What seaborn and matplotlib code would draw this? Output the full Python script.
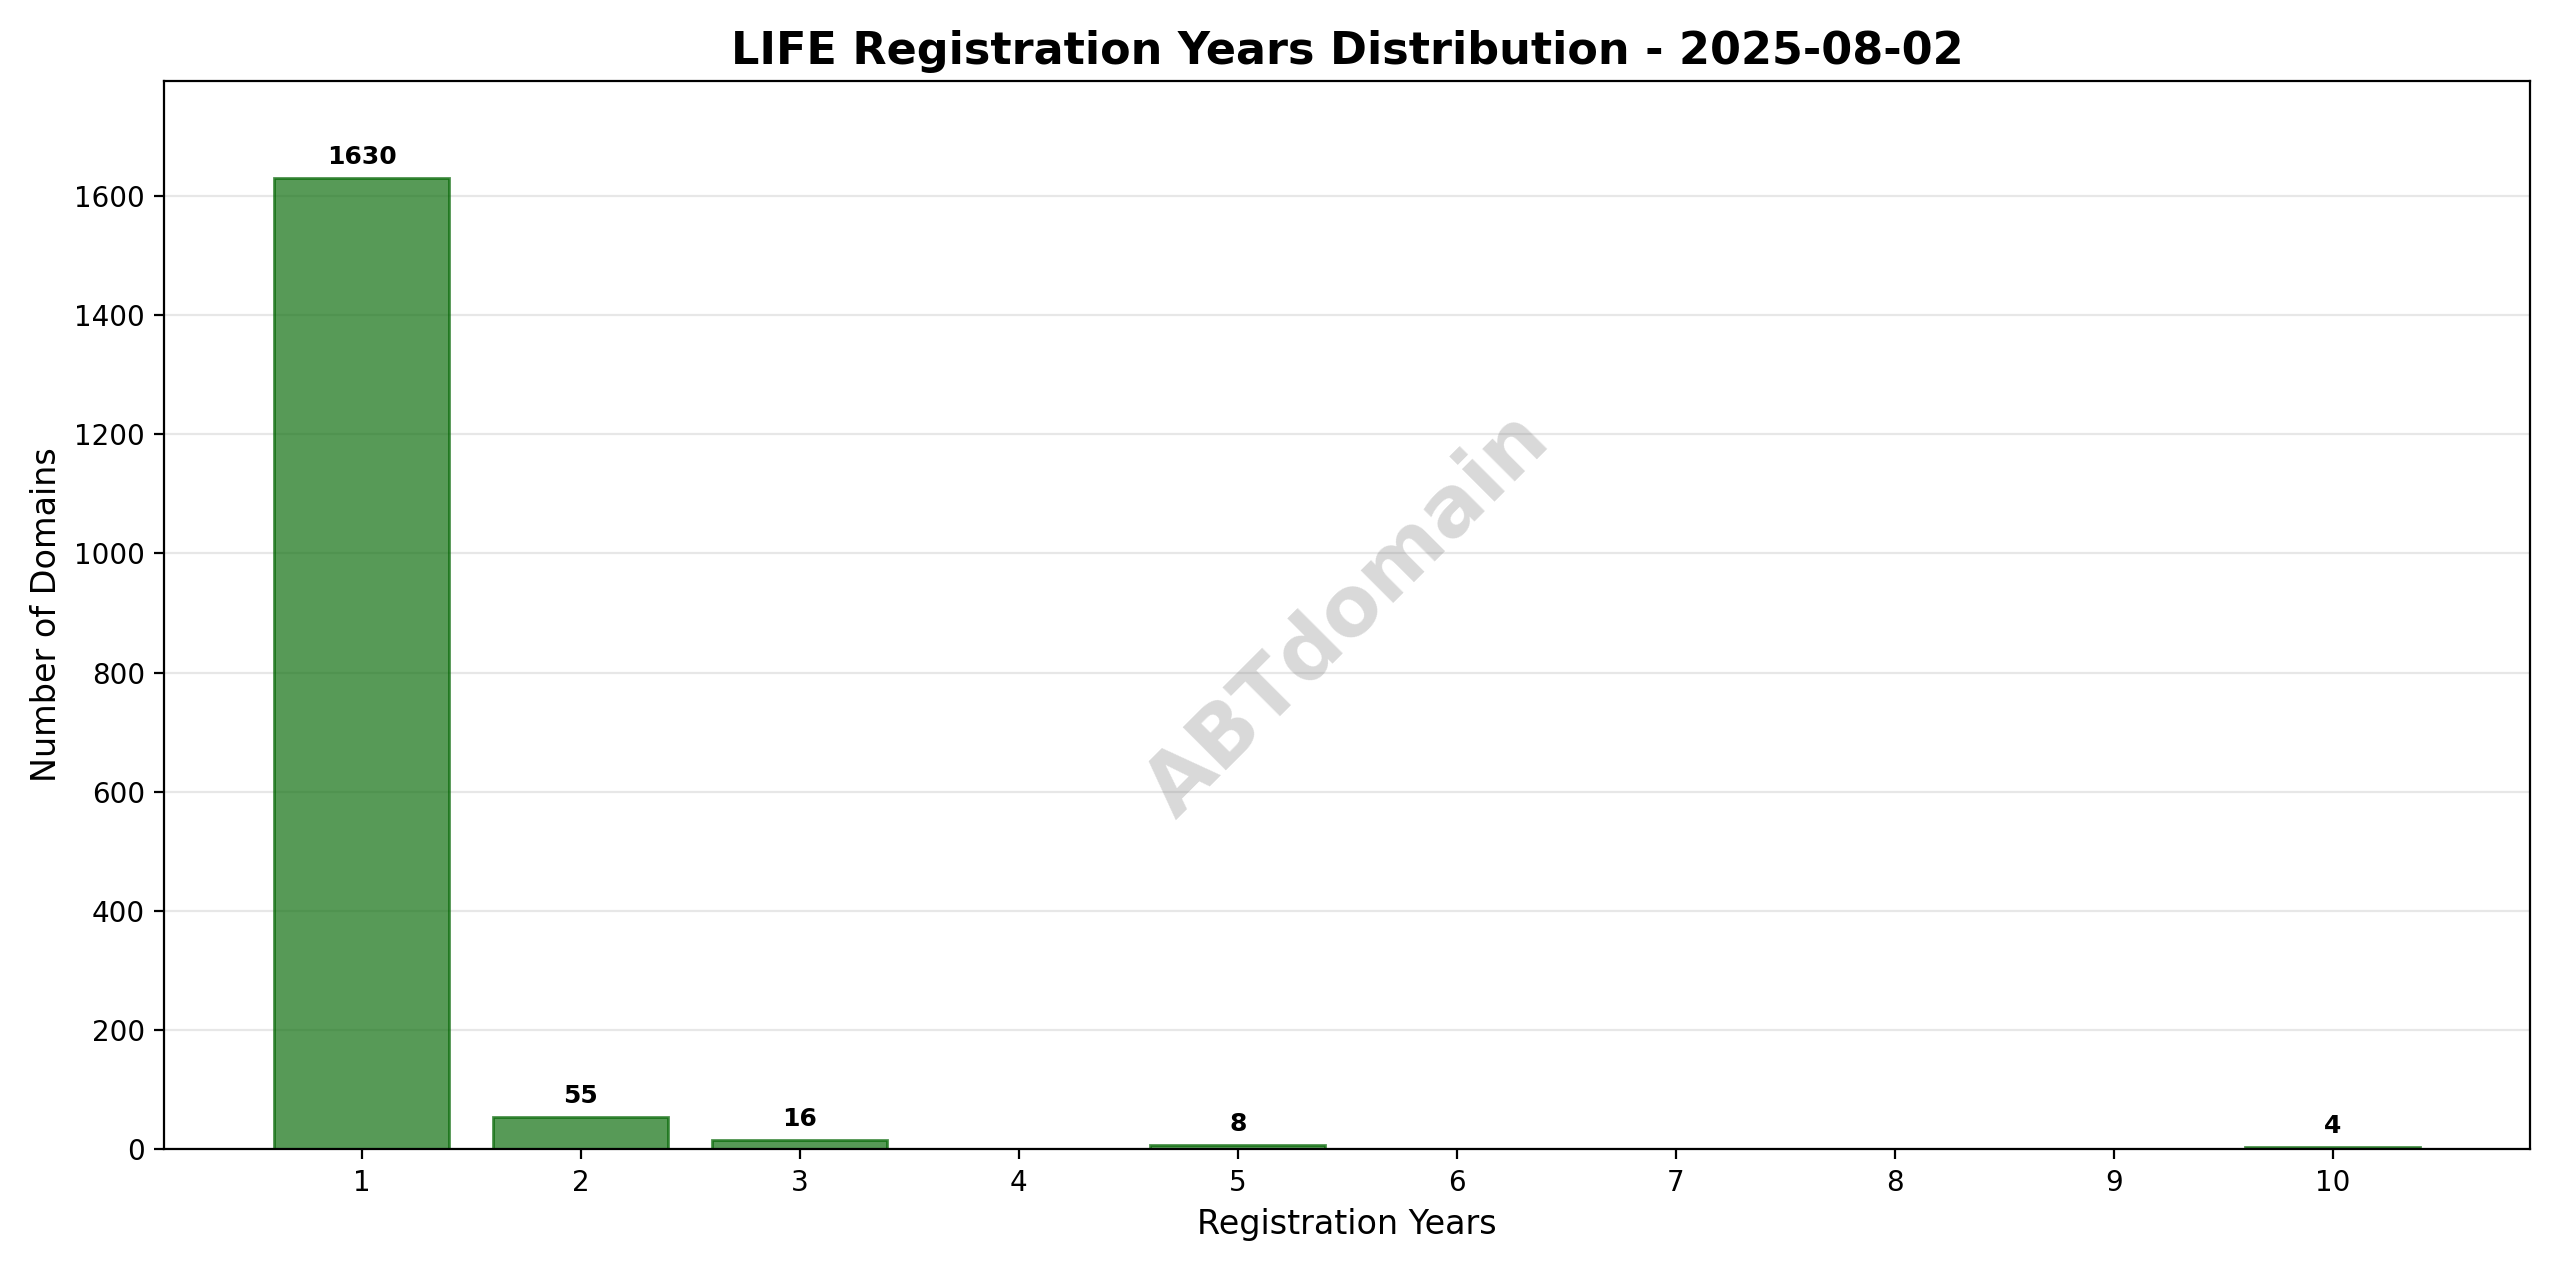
import matplotlib
matplotlib.use("Agg")
import matplotlib.pyplot as plt
import seaborn as sns
import pandas as pd

years = [1, 2, 3, 5, 10]
counts = [1630, 55, 16, 8, 4]
tick_years = list(range(1, 11))

df = pd.DataFrame({"years": years, "count": counts})

fig, ax = plt.subplots(figsize=(12.8, 6.355), dpi=200)
sns.barplot(data=df, x="years", y="count", native_scale=True, ax=ax,
            color="green", alpha=0.7, edgecolor="darkgreen", linewidth=1, width=0.8)

for x, y in zip(years, counts):
    ax.text(x, y + 15, str(y), ha="center", va="bottom", fontsize=9, fontweight="bold")

ax.set_xticks(tick_years)
ax.set_xlim(0.1, 10.9)
ax.set_ylim(0, max(counts) * 1.1)
ax.set_title("LIFE Registration Years Distribution - 2025-08-02", fontsize=16, fontweight="bold")
ax.set_xlabel("Registration Years", fontsize=12)
ax.set_ylabel("Number of Domains", fontsize=12)
ax.grid(axis="y", alpha=0.3)
ax.set_axisbelow(True)

ax.text(0.5, 0.5, "ABTdomain", transform=ax.transAxes, fontsize=30, color="gray",
        alpha=0.3, fontweight="bold", rotation=45, ha="center", va="center")

plt.tight_layout()
plt.savefig("out.png")
